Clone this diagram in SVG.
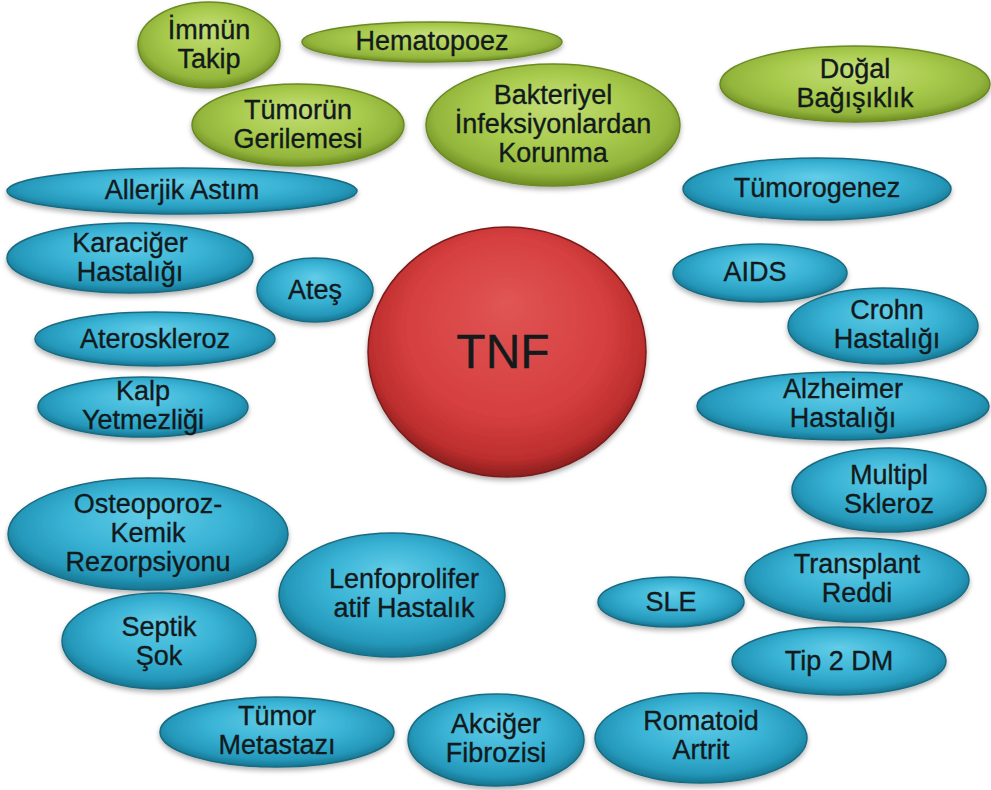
<svg xmlns="http://www.w3.org/2000/svg" width="991" height="790" viewBox="0 0 991 790">
<defs>
<radialGradient id="gBlue" cx="50%" cy="45%" r="55%" fx="50%" fy="30%">
<stop offset="0%" stop-color="#62cde8"/>
<stop offset="55%" stop-color="#38b2d4"/>
<stop offset="85%" stop-color="#2598ba"/>
<stop offset="100%" stop-color="#157591"/>
</radialGradient>
<radialGradient id="gGreen" cx="50%" cy="45%" r="55%" fx="50%" fy="30%">
<stop offset="0%" stop-color="#c4de78"/>
<stop offset="55%" stop-color="#a8ca4c"/>
<stop offset="85%" stop-color="#93b53c"/>
<stop offset="100%" stop-color="#6d8c22"/>
</radialGradient>
<radialGradient id="gRed" cx="50%" cy="45%" r="55%" fx="50%" fy="30%">
<stop offset="0%" stop-color="#e05555"/>
<stop offset="65%" stop-color="#d63f3f"/>
<stop offset="90%" stop-color="#bd2e2e"/>
<stop offset="100%" stop-color="#8a1e1e"/>
</radialGradient>
<filter id="sh" x="-10%" y="-10%" width="120%" height="130%">
<feDropShadow dx="0" dy="3" stdDeviation="2.5" flood-color="#000" flood-opacity="0.3"/>
</filter>
</defs>
<style>
.b{fill:url(#gBlue);stroke:#1a6b82;stroke-width:1.5;filter:url(#sh)}
.g{fill:url(#gGreen);stroke:#6a8a22;stroke-width:1.5;filter:url(#sh)}
.r{fill:url(#gRed);stroke:#7a1b1b;stroke-width:1.5;filter:url(#sh)}
text{font-family:"Liberation Sans",Arial,sans-serif;font-size:27px;fill:#121a1c;stroke:#121a1c;stroke-width:0.35;text-anchor:middle}
.big{font-size:48px}
</style>
<rect width="991" height="790" fill="#ffffff"/>

<g id="immun-takip"><ellipse class="g" cx="209" cy="45" rx="71" ry="43"/><text x="209" y="39">İmmün</text><text x="209" y="68">Takip</text></g>
<g id="hematopoez"><ellipse class="g" cx="432" cy="42" rx="130" ry="20"/><text x="432" y="50">Hematopoez</text></g>
<g id="tumorun-gerilemesi"><ellipse class="g" cx="298" cy="125" rx="106" ry="41"/><text x="298" y="119">Tümorün</text><text x="298" y="148">Gerilemesi</text></g>
<g id="bakteriyel"><ellipse class="g" cx="553" cy="125" rx="127" ry="61"/><text x="553" y="104">Bakteriyel</text><text x="553" y="133">İnfeksiyonlardan</text><text x="553" y="162">Korunma</text></g>
<g id="dogal-bagisiklik"><ellipse class="g" cx="855" cy="84" rx="135" ry="38"/><text x="855" y="78">Doğal</text><text x="855" y="107">Bağışıklık</text></g>

<g id="allerjik-astim"><ellipse class="b" cx="182" cy="191" rx="175" ry="23"/><text x="182" y="199">Allerjik Astım</text></g>
<g id="karaciger"><ellipse class="b" cx="130" cy="258" rx="123" ry="35"/><text x="130" y="252">Karaciğer</text><text x="130" y="281">Hastalığı</text></g>
<g id="ates"><ellipse class="b" cx="315" cy="290" rx="58" ry="32"/><text x="315" y="299">Ateş</text></g>
<g id="ateroskleroz"><ellipse class="b" cx="155" cy="339" rx="120" ry="27"/><text x="155" y="348">Ateroskleroz</text></g>
<g id="kalp"><ellipse class="b" cx="143" cy="407" rx="105" ry="30"/><text x="143" y="400">Kalp</text><text x="143" y="429">Yetmezliği</text></g>

<g id="tnf"><ellipse class="r" cx="507" cy="352" rx="139" ry="125"/><text class="big" x="503" y="368">TNF</text></g>

<g id="tumorogenez"><ellipse class="b" cx="817" cy="189" rx="134" ry="31"/><text x="817" y="197">Tümorogenez</text></g>
<g id="aids"><ellipse class="b" cx="760" cy="273" rx="87" ry="29"/><text x="755" y="281">AIDS</text></g>
<g id="crohn"><ellipse class="b" cx="883" cy="326" rx="95" ry="38"/><text x="887" y="319">Crohn</text><text x="887" y="348">Hastalığı</text></g>
<g id="alzheimer"><ellipse class="b" cx="843" cy="406" rx="146" ry="34"/><text x="843" y="398">Alzheimer</text><text x="843" y="427">Hastalığı</text></g>
<g id="multipl"><ellipse class="b" cx="889" cy="490" rx="97" ry="42"/><text x="889" y="484">Multipl</text><text x="889" y="513">Skleroz</text></g>
<g id="transplant"><ellipse class="b" cx="857" cy="580" rx="112" ry="42"/><text x="857" y="573">Transplant</text><text x="857" y="602">Reddi</text></g>
<g id="sle"><ellipse class="b" cx="671" cy="602" rx="73" ry="25"/><text x="671" y="611">SLE</text></g>
<g id="tip2dm"><ellipse class="b" cx="839" cy="661" rx="107" ry="34"/><text x="839" y="670">Tip 2 DM</text></g>
<g id="romatoid"><ellipse class="b" cx="701" cy="738" rx="106" ry="45"/><text x="701" y="730">Romatoid</text><text x="701" y="759">Artrit</text></g>

<g id="osteoporoz"><ellipse class="b" cx="148" cy="534" rx="140" ry="56"/><text x="148" y="513">Osteoporoz-</text><text x="148" y="542">Kemik</text><text x="148" y="571">Rezorpsiyonu</text></g>
<g id="septik"><ellipse class="b" cx="159" cy="641" rx="97" ry="48"/><text x="159" y="636">Septik</text><text x="159" y="665">Şok</text></g>
<g id="lenfo"><ellipse class="b" cx="392" cy="595" rx="113" ry="62"/><text x="404" y="588">Lenfoprolifer</text><text x="404" y="617">atif Hastalık</text></g>
<g id="tumor-metastazi"><ellipse class="b" cx="277" cy="732" rx="117" ry="35"/><text x="277" y="725">Tümor</text><text x="277" y="754">Metastazı</text></g>
<g id="akciger"><ellipse class="b" cx="496" cy="740" rx="88" ry="46"/><text x="496" y="733">Akciğer</text><text x="496" y="762">Fibrozisi</text></g>
</svg>
